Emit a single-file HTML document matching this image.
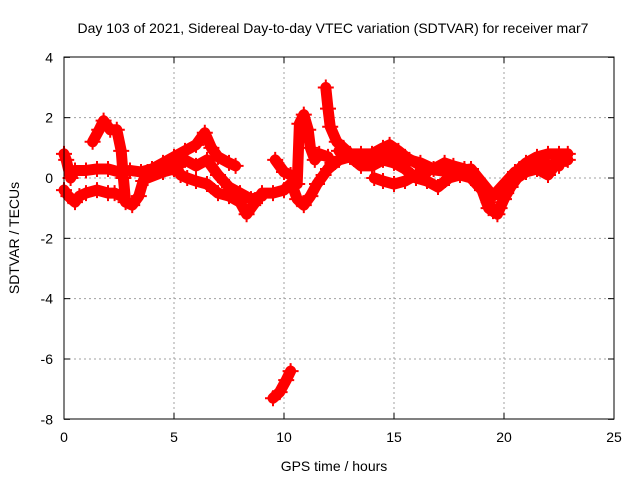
<!DOCTYPE html>
<html><head><meta charset="utf-8"><style>
body{margin:0;background:#fff}
svg{display:block;font-family:"Liberation Sans",sans-serif}
</style></head><body>
<svg id="chart" width="640" height="480" viewBox="0 0 640 480" xmlns="http://www.w3.org/2000/svg">
<rect width="640" height="480" fill="#fff"/>
<text x="333" y="33" font-size="14" text-anchor="middle">Day 103 of 2021, Sidereal Day-to-day VTEC variation (SDTVAR) for receiver mar7</text>
<text transform="translate(19,238) rotate(-90)" font-size="14" text-anchor="middle">SDTVAR / TECUs</text>
<text x="334" y="471" font-size="14" text-anchor="middle">GPS time / hours</text>
<g id="grid"></g>
<g id="ticks"></g>
<g id="marks"></g>
<rect x="64" y="57" width="550" height="362" fill="none" stroke="#000" stroke-width="1"/>
</svg>
<script>
const xTicks=[0,5,10,15,20,25];
const yTicks=[4,2,0,-2,-4,-6,-8];
const t1h=[0,0.1,0.3,0.5,1,1.5,2,2.5,3,3.5,4,4.5,5,5.5,6,6.4,6.7,7,7.5,7.8];
const t1v=[0.8,0.6,0.0,0.25,0.25,0.3,0.3,0.2,0.25,0.2,0.3,0.5,0.7,0.9,1.1,1.5,1.0,0.7,0.5,0.4];
const t2h=[0,0.2,0.5,0.7,1,1.5,2,2.3,2.6];
const t2v=[-0.4,-0.6,-0.8,-0.6,-0.5,-0.4,-0.5,-0.5,-0.6];
const t3h=[1.3,1.6,1.8,2.1,2.4,2.6,2.7,2.8,3.1,3.4,3.6,3.8,4.5,5,5.3,5.6,6,6.5,7,7.5,8,8.3,8.6,9,9.5,10,10.3];
const t3v=[1.2,1.6,1.9,1.6,1.6,0.9,0.0,-0.8,-0.9,-0.6,-0.1,0.2,0.4,0.5,0.1,0.0,-0.1,-0.2,-0.5,-0.6,-0.8,-1.2,-0.9,-0.5,-0.5,-0.4,-0.2];
const t4h=[9.5,9.8,10.1,10.3];
const t4v=[-7.3,-7.1,-6.7,-6.4];
const t5h=[9.6,10,10.3];
const t5v=[0.6,0.2,0.1];
const t6h=[10.6,10.7,10.9,11.1,11.2,11.4,11.6,12];
const t6v=[-0.2,1.8,2.1,1.6,1.0,0.6,0.8,0.7];
const t6bh=[10.4,10.6,10.9,11.2,11.5,11.8,12.2];
const t6bv=[-0.3,-0.7,-0.9,-0.6,-0.2,0.1,0.5];
const t7h=[11.9,12,12.1,12.4,12.7,13,13.5,14,14.5,14.8,15.2,15.7,16.2,16.8,17.3,17.7,18.2,18.6,19,19.3,19.5,19.8,20.1,20.4,20.7,21,21.5,22,22.5,22.9];
const t7v=[3.0,2.3,1.7,1.2,1.0,0.8,0.8,0.8,1.0,1.1,0.9,0.6,0.5,0.3,0.5,0.4,0.3,0.1,-0.3,-0.8,-1.1,-1.0,-0.5,-0.1,0.3,0.5,0.7,0.8,0.8,0.8];
const t8h=[12,12.5,13,13.5,14,14.5,15,15.5,16,16.5,17,17.5,18,18.5,19,19.3,19.7,20,20.3,20.6,21,21.5,22,22.5,22.9];
const t8v=[0.3,0.6,0.7,0.4,0.4,0.6,0.5,0.3,0.0,-0.1,-0.3,0.0,0.1,0.0,-0.4,-1.0,-1.2,-0.7,-0.3,0.0,0.2,0.3,0.1,0.6,0.6];
const t9h=[14.1,14.5,15,15.5,16,16.5];
const t9v=[0.0,-0.1,-0.2,-0.1,0.1,0.2];
const t10h=[3.8,4.5,5,5.5,6,6.5,7,7.5,8,8.5,9];
const t10v=[0.0,0.2,0.3,0.6,0.4,0.6,0.1,-0.3,-0.5,-0.7,-0.6];
const t11h=[12.5,13.5,14.5,15.5,16.5,17.5,18.5,19.5,20.5,21.5,22.5];
const t11v=[0.9,0.6,0.9,0.7,0.3,0.2,0.3,-0.6,0.2,0.5,0.4];
const tracks=[[t1h,t1v],[t2h,t2v],[t3h,t3v],[t4h,t4v],[t5h,t5v],[t6h,t6v],[t6bh,t6bv],[t7h,t7v],[t8h,t8v],[t9h,t9v],[t10h,t10v],[t11h,t11v]];

const X=h=>64+h*22;
const Y=v=>178-v*(362/12);
const NS="http://www.w3.org/2000/svg";
const grid=document.getElementById('grid'),ticks=document.getElementById('ticks'),marks=document.getElementById('marks');
function mk(tag,attrs,parent){const e=document.createElementNS(NS,tag);for(const k in attrs)e.setAttribute(k,attrs[k]);parent.appendChild(e);return e;}
xTicks.forEach(t=>{
  const x=X(t);
  if(t>0&&t<25){const g=mk('line',{x1:x,x2:x,y1:57,y2:419,stroke:'#a0a0a0','stroke-dasharray':'2,3'},grid);
  
  }
  mk('line',{x1:x,x2:x,y1:419,y2:413,stroke:'#000'},ticks);
  mk('line',{x1:x,x2:x,y1:57,y2:63,stroke:'#000'},ticks);
  const tx=mk('text',{x:x,y:442,'font-size':14,'text-anchor':'middle'},ticks);
  tx.textContent=t;
  
  
});
yTicks.forEach(t=>{
  const y=Y(t);
  if(t>-8&&t<4){const g=mk('line',{x1:64,x2:614,y1:y,y2:y,stroke:'#a0a0a0','stroke-dasharray':'2,3'},grid);
  
  }
  mk('line',{x1:64,x2:70,y1:y,y2:y,stroke:'#000'},ticks);
  mk('line',{x1:614,x2:608,y1:y,y2:y,stroke:'#000'},ticks);
  const tx=mk('text',{x:53,y:y+5,'font-size':14,'text-anchor':'end'},ticks);
  tx.textContent=t;
  
  
});
tracks.forEach(([hs,vs])=>{
  const pts=hs.map((h,i)=>X(h)+','+Y(vs[i])).join(' ');
  const pl=mk('polyline',{points:pts,fill:'none',stroke:'#ff0000','stroke-width':11,'stroke-linejoin':'round','stroke-linecap':'round'},marks);
  
  
  hs.forEach((h,i)=>{
    const x=X(h),y=Y(vs[i]);
    const p=mk('path',{d:`M${x-8},${y}h16M${x},${y-8}v16`,stroke:'#ff0000','stroke-width':2},marks);
    
    
  });
});
</script>
</body></html>
